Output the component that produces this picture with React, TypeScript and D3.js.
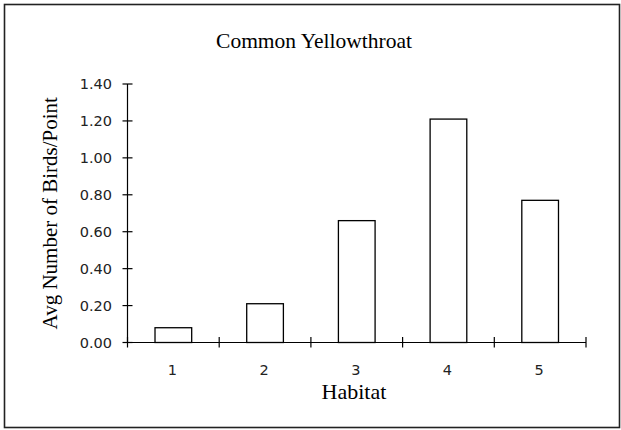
import React from "react";
import * as d3 from "d3";

const categories = ["1", "2", "3", "4", "5"];
const values = [0.08, 0.21, 0.66, 1.21, 0.77];
const yTicks = [0, 0.2, 0.4, 0.6, 0.8, 1.0, 1.2, 1.4];
const title = "Common Yellowthroat";
const xTitle = "Habitat";
const yTitle = "Avg Number of Birds/Point";

const W = 621;
const H = 430;
const left = 127.5;
const right = 586;
const top = 84;
const bottom = 342.5;

export default function App() {
  const x = d3.scaleBand<string>().domain(categories).range([left, right]).paddingInner(0.6).paddingOuter(0.3);
  const y = d3.scaleLinear().domain([0, 1.4]).range([bottom, top]);
  const step = x.step();
  const boundaries = d3.range(categories.length + 1).map((i) => left + i * ((right - left) / categories.length));
  const tickFont = "'DejaVu Sans', Verdana, sans-serif";
  const serif = "'Liberation Serif', 'Times New Roman', serif";
  return (
    <svg width={W} height={H} style={{ position: "absolute", left: 0, top: 0 }}>
      <rect x={0} y={0} width={W} height={H} fill="#fff" />
      <rect x={4.5} y={4.5} width={615} height={423} fill="none" stroke="#222" strokeWidth={1.6} />
      <text x={314} y={48.3} textAnchor="middle" fontFamily={serif} fontSize={21.5} fill="#000">{title}</text>
      {categories.map((c, i) => (
        <rect key={c} x={x(c)} y={y(values[i])} width={x.bandwidth()} height={y(0) - y(values[i])} fill="#fff" stroke="#000" strokeWidth={1.3} />
      ))}
      <line x1={left} x2={left} y1={top} y2={bottom} stroke="#000" strokeWidth={1.2} />
      <line x1={left} x2={right} y1={bottom} y2={bottom} stroke="#000" strokeWidth={1.2} />
      {yTicks.map((t) => (
        <g key={t}>
          <line x1={left - 5} x2={left + 5} y1={y(t)} y2={y(t)} stroke="#000" strokeWidth={1.2} />
          <text x={112} y={y(t) + 5.3} textAnchor="end" fontFamily={tickFont} fontSize={14.5} fill="#222">{t.toFixed(2)}</text>
        </g>
      ))}
      {boundaries.map((b, i) => (
        <line key={i} x1={b} x2={b} y1={bottom - 5.5} y2={bottom + 5} stroke="#000" strokeWidth={1.2} />
      ))}
      {categories.map((c) => (
        <text key={c} x={(x(c) as number) + x.bandwidth() / 2 - 1} y={375} textAnchor="middle" fontFamily={tickFont} fontSize={14.5} fill="#222">{c}</text>
      ))}
      <text x={354} y={399.3} textAnchor="middle" fontFamily={serif} fontSize={22} fill="#000">{xTitle}</text>
      <text transform={`translate(57.3, ${(top + bottom) / 2}) rotate(-90)`} textAnchor="middle" fontFamily={serif} fontSize={21} fill="#000">{yTitle}</text>
    </svg>
  );
}
